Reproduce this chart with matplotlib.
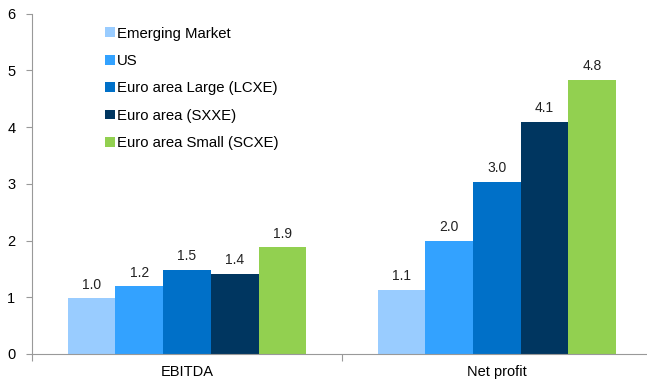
import matplotlib.pyplot as plt
import numpy as np

plt.rcParams['font.family'] = ['Liberation Sans', 'DejaVu Sans']

categories = ['EBITDA', 'Net profit']
series = ['Emerging Market', 'US', 'Euro area Large (LCXE)',
          'Euro area (SXXE)', 'Euro area Small (SCXE)']
values = {
    'Emerging Market': [0.98, 1.13],
    'US': [1.19, 2.0],
    'Euro area Large (LCXE)': [1.48, 3.03],
    'Euro area (SXXE)': [1.41, 4.09],
    'Euro area Small (SCXE)': [1.88, 4.84],
}
colors = ['#99CCFF', '#33A2FF', '#0070C8', '#003660', '#92D050']

fig = plt.figure(figsize=(6.47, 3.83), dpi=100)
ax = fig.add_axes([0.0495, 0.076, 0.958, 0.888])

x = np.arange(len(categories))
width = 0.154
for i, name in enumerate(series):
    offs = (i - 2) * width
    bars = ax.bar(x + offs, values[name], width, color=colors[i], label=name)
    for b, v in zip(bars, values[name]):
        ax.text(b.get_x() + b.get_width() / 2, v + 0.12, '%.1f' % v,
                ha='center', va='bottom', fontsize=10, color='#222222')

ax.set_xlim(-0.5, 1.5)
ax.set_ylim(0, 6)
ax.set_yticks(range(7))
ax.set_xticks([-0.5, 0.5, 1.5])
ax.set_xticklabels([])
ax.set_xticks(x, minor=True)
ax.set_xticklabels(categories, minor=True, fontsize=10.5)
ax.tick_params(axis='x', which='minor', length=0, pad=8)
ax.tick_params(axis='x', which='major', length=5, color='#999999')
ax.tick_params(axis='y', length=4, color='#999999', labelsize=10.5, pad=8)

for side in ['top', 'right']:
    ax.spines[side].set_visible(False)
for side in ['left', 'bottom']:
    ax.spines[side].set_color('#999999')

leg = ax.legend(loc='upper left', bbox_to_anchor=(0.153, 0.946),
                bbox_transform=fig.transFigure, frameon=False, fontsize=10.7,
                handlelength=0.65, handleheight=0.65, handletextpad=0.15,
                labelspacing=0.9, borderaxespad=0)

fig.savefig('out.png', dpi=100)
